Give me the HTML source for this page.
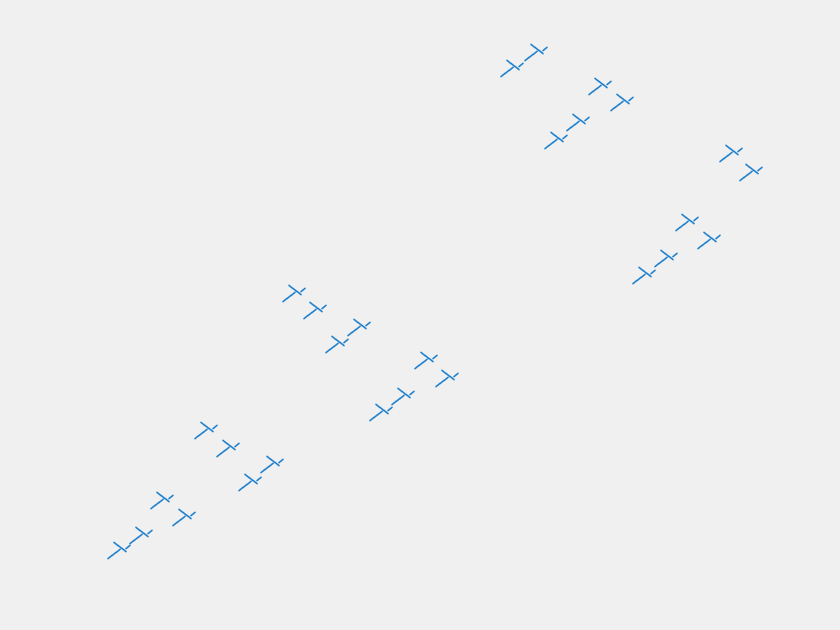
<!DOCTYPE html>
<html><head><meta charset="utf-8"><style>
html,body{margin:0;padding:0;background:#f0f0f0;}
svg{display:block;}
</style></head><body>
<svg id="chart" width="840" height="630" viewBox="0 0 840 630">
<rect width="840" height="630" fill="#f0f0f0"/>
<g id="marks"></g>
</svg>
<script>
const blobX = [120,142,163,185,207,229,251,273, 295,316,338,360,382,404,427,448, 513,537,557,579,601,623, 645,667,688,710,732,752];
const blobY = [550,535,500,517,430,448,482,464, 293,310,344,327,412,396,360,378, 68,52,140,122,86,102, 275,258,222,240,153,172];
const motifDX = [-10,-6,-2,-4,0,4,8];
const motifDY = [7,4,1,-6,-3,0,-3];
const motifDir = [1,1,1,-1,-1,-1,1];
const g = document.getElementById('marks');
const NS = 'http://www.w3.org/2000/svg';
function mark(x, y, d) {
  const p = document.createElementNS(NS, 'path');
  const dy = d > 0 ? -1.6 : 1.6;
  p.setAttribute('d', `M${x-2},${y-dy} L${x+2},${y+dy}`);
  p.setAttribute('stroke', '#2080cc');
  p.setAttribute('stroke-width', '1.6');
  p.setAttribute('stroke-linecap', 'round');
  
  
  g.appendChild(p);
}
for (let i = 0; i < blobX.length; i++) {
  for (let j = 0; j < motifDX.length; j++) {
    mark(blobX[i] + motifDX[j], blobY[i] + motifDY[j], motifDir[j]);
  }
}
</script>
</body></html>
